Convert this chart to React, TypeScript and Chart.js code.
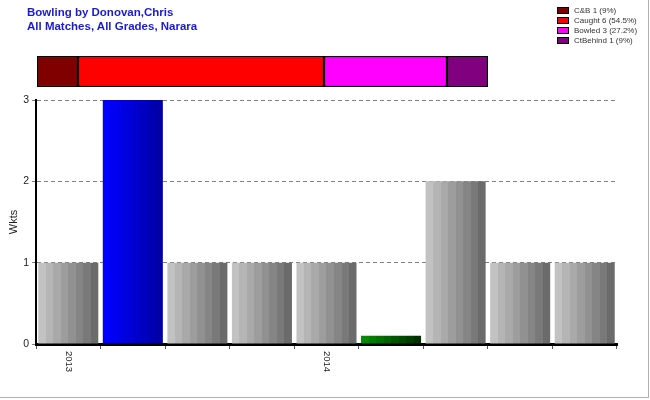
import React, { useEffect, useRef } from "react";
import { Chart, registerables } from "chart.js";

Chart.register(...registerables);

// ---- data ----
const categories = ["2013", "", "", "", "2014", "", "", "", ""];
const wickets = [1, 3, 1, 1, 1, 0.1, 2, 1, 1];
const barKinds = ["gray", "blue", "gray", "gray", "gray", "green", "gray", "gray", "gray"];
const yTicks = [0, 1, 2, 3];

const dismissalLabels = ["C&B 1 (9%)", "Caught 6 (54.5%)", "Bowled 3 (27.2%)", "CtBehind 1 (9%)"];
const dismissalCounts = [1, 6, 3, 1];
const dismissalColors = ["#800000", "#ff0000", "#ff00ff", "#800080"];

const titleLines = ["Bowling by Donovan,Chris", "All Matches, All Grades, Narara"];

// ---- styles ----
const stripePalettes: Record<string, string[]> = {
  gray: ["#c2c2c2", "#b5b5b5", "#a9a9a9", "#9d9d9d", "#919191", "#858585", "#797979", "#6b6b6b"],
  blue: ["#0000ff", "#0000f2", "#0000e6", "#0000d9", "#0000cc", "#0000c0", "#0000b3", "#0000a6"],
  green: ["#008a00", "#007d00", "#007000", "#006300", "#005600", "#004a00", "#003d00", "#003000"],
};

const CAT_PCT = 0.93;

export default function App() {
  const mainRef = useRef<HTMLCanvasElement | null>(null);
  const stackRef = useRef<HTMLCanvasElement | null>(null);

  useEffect(() => {
    document.body.style.margin = "0";
    const mainCanvas = mainRef.current!;
    const stackCanvas = stackRef.current!;

    const xLabelPlugin = {
      id: "xLabelsCW",
      afterDraw(chart: any) {
        const scale = chart.scales.x;
        const ctx = chart.ctx;
        ctx.save();
        ctx.font = "9.5px Arial, 'Liberation Sans', sans-serif";
        ctx.fillStyle = "#222";
        ctx.textBaseline = "middle";
        ctx.textAlign = "left";
        categories.forEach((lab, i) => {
          if (!lab) return;
          const x = scale.getPixelForTick(i);
          ctx.save();
          ctx.translate(x, chart.chartArea.bottom + 7);
          ctx.rotate(Math.PI / 2);
          ctx.fillText(lab, 0, 0);
          ctx.restore();
        });
        ctx.restore();
      },
    };

    const bg = (c: any) => {
      const chart = c.chart;
      const kind = barKinds[c.dataIndex] || "gray";
      const pal = stripePalettes[kind];
      const area = chart.chartArea;
      const xs = chart.scales.x;
      if (!area || !xs || c.dataIndex === undefined) return pal[3];
      const catW = (area.right - area.left) / categories.length;
      const w = catW * CAT_PCT;
      const cx = xs.getPixelForValue(c.dataIndex);
      const left = cx - w / 2;
      const right = cx + w / 2;
      const g = chart.ctx.createLinearGradient(left, 0, right, 0);
      const n = pal.length;
      pal.forEach((col, i) => {
        g.addColorStop(i / n, col);
        g.addColorStop(Math.min(1, (i + 1) / n - 0.0001), col);
      });
      return g;
    };

    const main = new Chart(mainCanvas, {
      type: "bar",
      data: {
        labels: categories,
        datasets: [
          {
            data: wickets,
            backgroundColor: bg as any,
            borderWidth: 0,
            barPercentage: 1,
            categoryPercentage: CAT_PCT,
          },
        ],
      },
      options: {
        animation: false,
        responsive: false,
        maintainAspectRatio: false,
        layout: { padding: { left: 0, right: 33, top: 100, bottom: 0 } },
        plugins: { legend: { display: false }, tooltip: { enabled: false } },
        scales: {
          x: {
            grid: {
              display: true,
              drawOnChartArea: false,
              drawTicks: true,
              tickLength: 5,
              color: "#555",
            },
            border: { display: true, color: "#000", width: 3 },
            ticks: { display: false },
            afterFit: (s: any) => {
              s.height = 56;
            },
          },
          y: {
            min: 0,
            max: 3,
            afterBuildTicks: (s: any) => {
              s.ticks = yTicks.map((v) => ({ value: v }));
            },
            grid: {
              display: true,
              drawTicks: true,
              tickLength: 4,
              color: "#808080",
              lineWidth: 1,
              tickBorderDash: [],
            } as any,
            border: { display: true, color: "#000", width: 2, dash: [4, 3] } as any,
            ticks: {
              padding: 3,
              color: "#222",
              font: { family: "Arial, 'Liberation Sans', sans-serif", size: 10.5 },
            },
            title: {
              display: true,
              text: "Wkts",
              color: "#222",
              padding: { top: 7, bottom: 0 },
              font: { family: "Arial, 'Liberation Sans', sans-serif", size: 11 },
            },
            afterFit: (s: any) => {
              s.width = 36;
            },
          },
        },
      },
      plugins: [xLabelPlugin],
    });

    const stack = new Chart(stackCanvas, {
      type: "bar",
      data: {
        labels: ["dismissals"],
        datasets: dismissalCounts.map((v, i) => ({
          label: dismissalLabels[i],
          data: [v],
          backgroundColor: dismissalColors[i],
          borderColor: "#000",
          borderWidth: 1.5,
          borderSkipped: false,
          barPercentage: 1,
          categoryPercentage: 1,
        })),
      },
      options: {
        animation: false,
        responsive: false,
        maintainAspectRatio: false,
        indexAxis: "y",
        layout: { padding: 1 },
        plugins: { legend: { display: false }, tooltip: { enabled: false } },
        scales: {
          x: {
            stacked: true,
            display: false,
            min: 0,
            max: dismissalCounts.reduce((a, b) => a + b, 0),
          },
          y: { stacked: true, display: false },
        },
      },
    });

    return () => {
      main.destroy();
      stack.destroy();
    };
  }, []);

  return (
    <div
      style={{
        position: "relative",
        width: 650,
        height: 400,
        background: "#fff",
        fontFamily: "Arial, 'Liberation Sans', sans-serif",
        overflow: "hidden",
      }}
    >
      <canvas ref={mainRef} width={650} height={400} style={{ position: "absolute", left: 0, top: 0 }} />
      <div
        style={{
          position: "absolute",
          left: 27,
          top: 5,
          color: "#1a1ad0",
          fontWeight: "bold",
          fontSize: 11.5,
          lineHeight: "14px",
        }}
      >
        {titleLines.map((t, i) => (
          <div key={i}>{t}</div>
        ))}
      </div>
      <canvas
        ref={stackRef}
        width={453}
        height={33}
        style={{ position: "absolute", left: 36, top: 55 }}
      />
      <div style={{ position: "absolute", left: 557, top: 5 }}>
        {dismissalLabels.map((lab, i) => (
          <div key={i} style={{ display: "flex", alignItems: "center", height: 10 }}>
            <div
              style={{
                width: 10,
                height: 5,
                background: dismissalColors[i],
                border: "1px solid #000",
                marginRight: 5,
              }}
            />
            <span style={{ fontSize: 8, color: "#333", whiteSpace: "nowrap" }}>{lab}</span>
          </div>
        ))}
      </div>
      <div
        style={{
          position: "absolute",
          right: 1,
          top: 0,
          width: 1,
          height: 398,
          background: "#b0b0b0",
        }}
      />
      <div
        style={{
          position: "absolute",
          left: 0,
          bottom: 2,
          width: 649,
          height: 1,
          background: "#b0b0b0",
        }}
      />
    </div>
  );
}
